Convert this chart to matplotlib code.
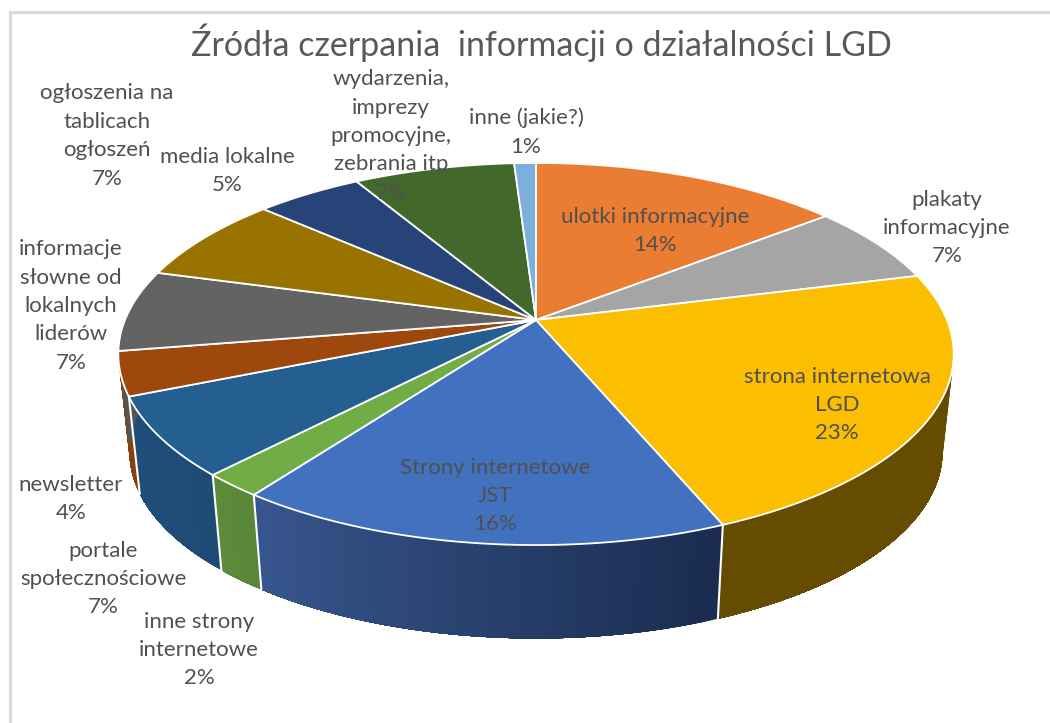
import matplotlib
matplotlib.use('Agg')
import matplotlib.pyplot as plt
from matplotlib.colors import to_rgb
import numpy as np

# shares in %, clockwise from 12 o'clock, read from the slice edges
categories = ['ulotki informacyjne', 'plakaty\ninformacyjne', 'strona internetowa\nLGD',
              'Strony internetowe\nJST', 'inne strony\ninternetowe', 'portale\nspołecznościowe',
              'newsletter', 'informacje\nsłowne od\nlokalnych\nliderów', 'ogłoszenia na\ntablicach\nogłoszeń',
              'media lokalne', 'wydarzenia,\nimprezy\npromocyjne,\nzebrania itp', 'inne (jakie?)']
values = [14.3, 6.7, 22.8, 16.2, 2, 6.7, 3.7, 6.9, 7.4, 4.9, 7.4, 1]
top_colors = ['#EB7D32', '#A5A5A5', '#FBBE00', '#4271C0', '#70AD47', '#255E91',
              '#9E480E', '#636363', '#997300', '#264478', '#43682B', '#7CAFDD']
wall_left = ['#C0651F', '#7F7F7F', '#654C00', '#37578F', '#5C8C3A', '#1F4E79',
             '#8A3F0C', '#555555', '#7F6000', '#1F3864', '#385723', '#5F93C4']
wall_right = ['#C0651F', '#7F7F7F', '#654C00', '#1A2C4F', '#598637', '#1D4B74',
              '#8A3F0C', '#555555', '#7F6000', '#1F3864', '#385723', '#5F93C4']
label_x = [655, 947, 837, 495, 199, 103, 71, 71, 107, 227, 391, 526]
label_y = [231, 228, 405, 496, 650, 579, 499, 306, 136, 171, 136, 132]

title = 'Źródła czerpania  informacji o działalności LGD'
text_color = '#505050'


def project(angle, cy, a, b):
    # perspective view of a circle, angle in radians clockwise from the top
    u, v = np.sin(angle), np.cos(angle)
    w = 1 + 0.178 * v
    return 536 + a * u / w, cy - b * v / w


def top_rim(angle):
    return project(angle, 320, 411, 185)


def bottom_rim(angle):
    return project(angle, 419, 400, 180.4)


fig = plt.figure(figsize=(10.5, 7.23), dpi=100)
ax = fig.add_axes([0, 0, 1, 1])
ax.set_xlim(0, 1050)
ax.set_ylim(723, 0)
ax.axis('off')

# chart frame, only top and left are inside the crop
ax.plot([9.5, 9.5, 1050], [723, 11.5, 11.5], color='#D9D9D9', lw=2.2, solid_joinstyle='miter')

edges = np.cumsum([0] + values) / sum(values) * 2 * np.pi

for i in range(len(values)):
    c0, c1 = np.array(to_rgb(wall_left[i])), np.array(to_rgb(wall_right[i]))
    steps = 60
    angles = np.linspace(edges[i], edges[i + 1], steps + 1)
    # each strip runs to the slice end, the next one paints over it, so no seams show
    for a0 in angles[:-1]:
        arc = np.linspace(a0, edges[i + 1], 40)
        tx, ty = top_rim(arc)
        bx, by = bottom_rim(arc)
        # gradient runs right to left as the angle grows
        t = 1 - (a0 - edges[i]) / (edges[i + 1] - edges[i])
        col = c0 + (c1 - c0) * t
        ax.fill(np.r_[tx, bx[::-1]], np.r_[ty, by[::-1]], color=col, lw=0, zorder=2)

# white seams on the visible wall corners
for i in [3, 4, 5, 6]:
    tx, ty = top_rim(edges[i])
    bx, by = bottom_rim(edges[i])
    ax.plot([tx, bx], [ty, by], color='white', lw=1.5, zorder=3)

for i in range(len(values)):
    angles = np.linspace(edges[i], edges[i + 1], 80)
    xs, ys = top_rim(angles)
    ax.fill(np.r_[536, xs], np.r_[320, ys], facecolor=top_colors[i], edgecolor='white',
            lw=1.3, joinstyle='round', zorder=4)

for name, val, x, y in zip(categories, values, label_x, label_y):
    ax.text(x, y, f'{name}\n{val:.0f}%', ha='center', va='center', fontsize=16, family='Lato',
            color=text_color, linespacing=1.53, zorder=5)

ax.text(541, 43, title, ha='center', va='center', fontsize=24.5, family='Lato', color='#595959', zorder=5)

fig.savefig('out.png', dpi=100)
